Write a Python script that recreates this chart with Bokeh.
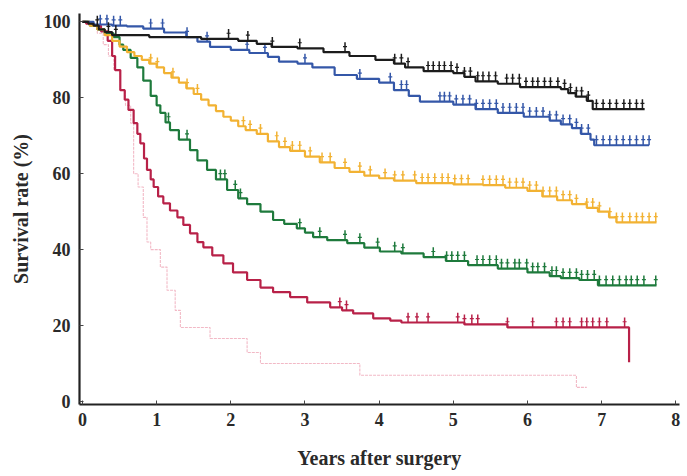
import numpy as np
from bokeh.plotting import figure
from bokeh.models import Range1d, FixedTicker, ColumnDataSource
from bokeh.embed import file_html
from bokeh.resources import INLINE

x_ticks = [0, 1, 2, 3, 4, 5, 6, 7, 8]
y_ticks = [0, 20, 40, 60, 80, 100]

# ---- Kaplan-Meier step data (time in years, survival %) ----
black_t = [0, 0.08, 0.15, 0.22, 0.3, 0.4, 0.9, 1.6, 2.1, 2.35, 2.55, 2.9, 3.25, 3.6, 3.95, 4.2, 4.35,
           4.6, 5.0, 5.15, 5.3, 5.6, 5.9, 6.45, 6.55, 6.65, 6.8, 6.88]
black_s = [100, 99.5, 99, 98, 97.3, 96.5, 96, 95.5, 95, 94.2, 93.4, 93, 92, 91, 90, 89, 88,
           87, 86.5, 85.5, 84.3, 83.7, 82.8, 82.3, 81.2, 80.3, 79.2, 77]
black_end = 7.58
black_cens = [0.2, 0.35, 0.45, 1.97, 2.23, 2.56, 2.93, 3.54, 4.21, 4.30, 4.39, 4.66, 4.73, 4.81, 4.88,
              4.97, 5.05, 5.15, 5.23, 5.33, 5.40, 5.48, 5.57, 5.72, 5.80, 5.89, 5.98, 6.07, 6.14,
              6.23, 6.31, 6.41, 6.50, 6.58, 6.66, 6.73, 6.82, 6.93, 7.02, 7.11, 7.20, 7.30, 7.38,
              7.47, 7.55]

blue_t = [0, 0.15, 0.4, 0.6, 0.82, 1.1, 1.4, 1.55, 1.72, 2.0, 2.25, 2.5, 2.65, 2.9, 3.1, 3.4, 3.7,
          4.0, 4.2, 4.4, 4.55, 5.0, 5.3, 5.6, 5.95, 6.3, 6.45, 6.6, 6.72, 6.85, 6.9]
blue_s = [100, 99.3, 99, 98.8, 98.2, 97.2, 96, 94.8, 93.4, 92.6, 91.8, 90.8, 89.5, 89, 88, 86, 85,
          84, 82, 80.5, 79, 78.2, 77, 76, 75, 74, 73, 72, 70.5, 69, 67.5]
blue_end = 7.64
blue_cens = [0.24, 0.33, 0.42, 0.51, 0.92, 1.08, 1.41, 1.68, 2.22, 2.46, 3.0, 3.74, 4.15, 4.30,
             4.37, 4.82, 4.88, 4.95, 5.04, 5.13, 5.22, 5.31, 5.40, 5.49, 5.58, 5.67, 5.76, 5.85,
             5.94, 6.03, 6.12, 6.21, 6.30, 6.39, 6.48, 6.57, 6.66, 6.73, 6.82, 6.93, 7.02, 7.11,
             7.20, 7.29, 7.38, 7.47, 7.56, 7.64]

yellow_t = [0, 0.1, 0.2, 0.3, 0.4, 0.5, 0.6, 0.7, 0.8, 0.9, 1.0, 1.1, 1.2, 1.3, 1.4, 1.5, 1.6, 1.7,
            1.8, 1.9, 2.0, 2.1, 2.2, 2.35, 2.5, 2.65, 2.8, 3.0, 3.2, 3.4, 3.6, 3.8, 4.0, 4.2, 4.5,
            5.0, 5.4, 5.7, 6.0, 6.2, 6.4, 6.6, 6.8, 6.95, 7.1, 7.2]
yellow_s = [100, 99, 98, 96.5, 95, 93.5, 92, 91, 90, 89, 88, 86.5, 85.3, 84, 82.5, 81, 79.5, 78,
            76.5, 75, 74, 72.5, 71.5, 70.5, 68.5, 67, 66, 64.5, 63, 61.5, 60.5, 59.5, 58.8, 58.2,
            57.5, 57.2, 57, 56.3, 55.5, 54, 53, 52, 51, 50, 48.5, 47.2]
yellow_end = 7.74
yellow_cens = [0.92, 1.01, 1.22, 1.41, 1.55, 2.17, 2.26, 2.40, 2.62, 2.73, 2.83, 2.93, 3.07, 3.23,
               3.34, 3.54, 3.74, 3.88, 4.08, 4.21, 4.32, 4.48, 4.58, 4.66, 4.75, 4.85, 4.93, 5.02,
               5.11, 5.20, 5.40, 5.49, 5.58, 5.67, 5.76, 5.85, 5.94, 6.03, 6.12, 6.21, 6.30, 6.39,
               6.48, 6.57, 6.66, 6.80, 6.88, 6.97, 7.11, 7.20, 7.28, 7.38, 7.47, 7.55, 7.64, 7.73]

green_t = [0, 0.1, 0.2, 0.3, 0.42, 0.5, 0.55, 0.65, 0.74, 0.82, 0.92, 1.0, 1.05, 1.12, 1.18, 1.3,
           1.45, 1.55, 1.68, 1.8, 1.95, 2.1, 2.22, 2.4, 2.57, 2.72, 2.89, 3.0, 3.11, 3.3, 3.57,
           3.8, 4.01, 4.3, 4.6, 4.9, 5.2, 5.6, 6.0, 6.3, 6.45, 6.7, 6.95]
green_s = [100, 99, 98, 97, 96, 94, 92.6, 90.5, 88, 84.5, 80.5, 78, 76, 73.5, 71.5, 69, 66.2, 63.5,
           61, 58.5, 55.7, 53.5, 52, 50, 47.8, 46.8, 45.6, 44.5, 43.3, 42.5, 41.7, 40.5, 39.5,
           39, 38, 37, 35.9, 35, 34, 33, 32.5, 32, 30.6]
green_end = 7.74
green_cens = [1.16, 1.41, 1.86, 1.92, 2.06, 2.13, 2.93, 3.20, 3.54, 3.74, 3.98, 4.21, 4.32, 4.73,
              4.91, 4.98, 5.06, 5.15, 5.32, 5.40, 5.49, 5.58, 5.65, 5.73, 5.83, 5.89, 5.99, 6.07,
              6.14, 6.23, 6.33, 6.39, 6.48, 6.57, 6.66, 6.73, 6.81, 6.90, 6.97, 7.06, 7.15, 7.24,
              7.33, 7.40, 7.48, 7.57, 7.73]

red_t = [0, 0.05, 0.15, 0.25, 0.34, 0.4, 0.44, 0.51, 0.57, 0.62, 0.69, 0.74, 0.78, 0.83, 0.87,
         0.92, 0.96, 1.02, 1.09, 1.18, 1.28, 1.36, 1.45, 1.55, 1.63, 1.75, 1.9, 2.03, 2.22, 2.4,
         2.57, 2.8, 3.03, 3.34, 3.5, 3.65, 3.92, 4.15, 4.3, 5.15, 5.73, 7.37]
red_s = [100, 99.5, 99, 97.5, 95, 91, 87.3, 82, 79.5, 76.8, 73.3, 70.5, 68, 64, 61, 58.5, 56.5,
         54, 52.2, 50.3, 48.5, 46.5, 44.3, 42, 40.6, 38.5, 36.4, 34, 32, 30, 28.8, 27.5, 26.1,
         24.8, 24, 23.2, 21.9, 21.3, 20.8, 20.3, 19.5, 10.3]
red_end = 7.37
red_cens = [3.47, 3.56, 4.39, 4.51, 4.66, 5.06, 5.15, 5.25, 5.33, 5.73, 6.07, 6.39, 6.48, 6.57,
            6.73, 6.80, 6.88, 6.97, 7.07, 7.31]

pink_t = [0, 0.1, 0.2, 0.28, 0.35, 0.42, 0.51, 0.58, 0.65, 0.69, 0.75, 0.82, 0.87, 0.92, 1.05,
          1.14, 1.25, 1.32, 1.72, 2.22, 2.4, 3.74, 6.66]
pink_s = [100, 99, 97, 94, 91, 87.3, 82, 78, 73.3, 60, 56.5, 48.5, 42, 40, 35.4, 29.3, 24, 19.5,
          16.6, 12.9, 10.0, 6.9, 3.7]
pink_end = 6.8

series = [
    (pink_t, pink_s, pink_end, [], "#f2b9c6", 1.1, "3 1"),
    (red_t, red_s, red_end, red_cens, "#b82148", 2.2, "solid"),
    (green_t, green_s, green_end, green_cens, "#1e7a3c", 2.2, "solid"),
    (yellow_t, yellow_s, yellow_end, yellow_cens, "#f2b233", 2.2, "solid"),
    (blue_t, blue_s, blue_end, blue_cens, "#3457a8", 2.2, "solid"),
    (black_t, black_s, black_end, black_cens, "#1c1c1c", 2.2, "solid"),
]

p = figure(width=687, height=476, output_backend="svg", toolbar_location=None,
           x_range=Range1d(-0.04, 8.05), y_range=Range1d(-0.8, 102.2),
           min_border_left=79, min_border_right=8, min_border_top=13, min_border_bottom=72)
p.outline_line_color = None
p.xgrid.visible = False
p.ygrid.visible = False
p.background_fill_color = "white"
p.border_fill_color = "white"

for t, s, end, cens, color, w, dash in series:
    xs = list(t) + [end]
    ys = list(s) + [s[-1]]
    p.step(xs, ys, mode="after", line_color=color, line_width=w, line_dash=dash)
    if cens:
        ta = np.array(t)
        sa = np.array(s)
        ca = np.array(cens)
        idx = np.searchsorted(ta, ca, side="right") - 1
        cy = sa[idx]
        src = ColumnDataSource(dict(x=ca, y0=cy, y1=cy + 2.6, ym=cy + 1.5))
        p.segment(x0="x", y0="y0", x1="x", y1="y1", source=src, line_color=color, line_width=1.5)
        p.scatter(x="x", y="ym", source=src, marker="dash", size=4, line_color=color,
                  line_width=1.2)

font = "Liberation Serif"
for ax in (p.xaxis[0], p.yaxis[0]):
    ax.axis_line_color = "#222222"
    ax.axis_line_width = 2.2
    ax.major_tick_in = 4
    ax.major_tick_out = 0
    ax.major_tick_line_color = "#444444"
    ax.minor_tick_line_color = None
    ax.major_label_text_font = font
    ax.major_label_text_font_style = "bold"
    ax.major_label_text_font_size = "18px"
    ax.major_label_text_color = "#2a2a2a"
    ax.axis_label_text_font = font
    ax.axis_label_text_font_style = "bold"
    ax.axis_label_text_font_size = "20px"
    ax.axis_label_text_color = "#2a2a2a"

p.xaxis.ticker = FixedTicker(ticks=x_ticks)
p.yaxis.ticker = FixedTicker(ticks=y_ticks)
p.xaxis.axis_label = "Years after surgery"
p.yaxis.axis_label = "Survival rate (%)"
p.xaxis.major_label_standoff = 8
p.yaxis.major_label_standoff = 9
p.xaxis.axis_label_standoff = 18
p.yaxis.axis_label_standoff = 9

open("out.html", "w").write(file_html(p, INLINE))
